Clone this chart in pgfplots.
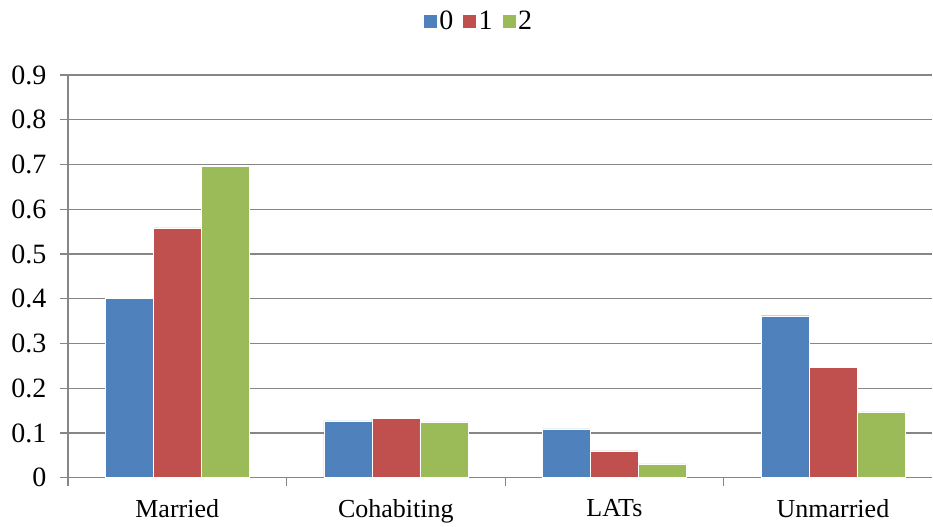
\documentclass[border=0pt]{standalone}
\usepackage{fontspec}
\setmainfont{Liberation Serif}
\usepackage{pgfplots}
\pgfplotsset{compat=1.18}
\definecolor{sblue}{HTML}{4F81BD}
\definecolor{sred}{HTML}{C0504D}
\definecolor{sgreen}{HTML}{9BBB59}
\definecolor{gridgray}{HTML}{868686}
\begin{document}
\begin{tikzpicture}
\begin{axis}[
  at={(0,0)}, anchor=south west,
  scale only axis, width=865bp, height=403bp,
  xmin=-0.5, xmax=3.455, ymin=0, ymax=0.9,
  axis x line*=bottom, axis y line*=left,
  axis line style={gridgray, line width=1.2bp},
  ymajorgrids, grid style={gridgray, line width=1.2bp},
  ybar=0pt, bar width=48bp,
  tick align=outside, major tick length=8bp,
  tick style={gridgray, line width=1.2bp},
  ytick={0,0.1,0.2,0.3,0.4,0.5,0.6,0.7,0.8,0.9},
  yticklabels={0,0.1,0.2,0.3,0.4,0.5,0.6,0.7,0.8,0.9},
  xtick={-0.5,0.5,1.5,2.5}, xticklabels={},
  extra x ticks={0,1,2,3},
  extra x tick labels={Married,Cohabiting,LATs,Unmarried},
  extra x tick style={major tick length=0pt, xticklabel style={yshift=-18bp}},
  xticklabel style={font=\fontsize{26bp}{30bp}\selectfont},
  yticklabel style={font=\fontsize{28bp}{32bp}\selectfont, xshift=-10bp},
  /pgf/number format/assume math mode=true,
  legend style={at={(axis description cs:0.4070,1.1340)}, anchor=west,
    draw=none, fill=none, legend columns=-1,
    font=\fontsize{28bp}{32bp}\selectfont,
    nodes={inner sep=2bp},
    /tikz/every even column/.append style={column sep=7bp}},
  legend image code/.code={\fill[#1] (0bp,-7bp) rectangle (14bp,7bp);},
]
\addplot[fill=sblue, draw=white, line width=0.4bp] coordinates {(0,0.400) (1,0.127) (2,0.109) (3,0.362)};
\addplot[fill=sred, draw=white, line width=0.4bp] coordinates {(0,0.558) (1,0.132) (2,0.060) (3,0.246)};
\addplot[fill=sgreen, draw=white, line width=0.4bp] coordinates {(0,0.696) (1,0.125) (2,0.031) (3,0.147)};
\legend{0,1,2}
\end{axis}
\path[use as bounding box] (-68bp,-47bp) rectangle (865bp,478bp);
\end{tikzpicture}
\end{document}
